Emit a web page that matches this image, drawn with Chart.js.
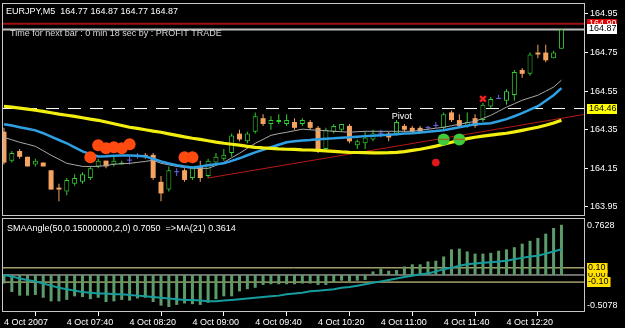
<!DOCTYPE html>
<html>
<head>
<meta charset="utf-8">
<script src="https://cdn.jsdelivr.net/npm/chart.js@4.4.1/dist/chart.umd.min.js"></script>
<style>
  html, body { margin: 0; padding: 0; background: #000; }
  canvas { position: absolute; left: 0; background: #000; }
  #mainChart { top: 0px; }
  #subChart { top: 216px; }
</style>
</head>
<body>
<canvas id="mainChart" width="625" height="216"></canvas>
<canvas id="subChart" width="625" height="112"></canvas>
<script>
// EURJPY M5 - 4 Oct 2007, 07:00 .. 12:55
const symbol = 'EURJPY,M5';
const opens  = [164.34,164.19,164.24,164.21,164.17,164.18,164.14,164.05,164.03,164.07,164.08,164.10,164.16,164.19,164.17,164.17,164.19,164.21,164.22,164.22,
                164.08,164.04,164.13,164.14,164.10,164.16,164.11,164.18,164.20,164.23,164.33,164.29,164.34,164.41,164.38,164.39,164.38,164.39,164.38,164.39,
                164.36,164.25,164.34,164.35,164.37,164.27,164.28,164.30,164.33,164.33,164.33,164.37,164.36,164.36,164.36,164.37,164.36,164.44,164.40,164.37,
                164.41,164.40,164.47,164.51,164.50,164.53,164.66,164.64,164.75,164.75,164.72,164.77];
const highs  = [164.36,164.24,164.25,164.21,164.20,164.18,164.14,164.07,164.10,164.12,164.13,164.16,164.20,164.19,164.21,164.19,164.21,164.23,164.23,164.23,
                164.11,164.16,164.15,164.15,164.16,164.19,164.20,164.23,164.25,164.33,164.35,164.34,164.44,164.43,164.42,164.43,164.43,164.41,164.41,164.40,
                164.37,164.36,164.38,164.38,164.38,164.30,164.34,164.35,164.35,164.34,164.40,164.38,164.37,164.37,164.37,164.39,164.44,164.45,164.43,164.44,
                164.43,164.49,164.52,164.53,164.56,164.66,164.67,164.75,164.79,164.79,164.76,164.87];
const lows   = [164.17,164.18,164.20,164.16,164.16,164.16,164.04,163.98,164.01,164.06,164.07,164.09,164.15,164.15,164.16,164.17,164.17,164.20,164.20,164.09,
                163.98,164.03,164.11,164.08,164.09,164.08,164.10,164.17,164.19,164.21,164.29,164.28,164.33,164.37,164.35,164.38,164.37,164.35,164.37,164.35,
                164.23,164.24,164.33,164.34,164.28,164.25,164.25,164.29,164.31,164.29,164.32,164.34,164.33,164.33,164.35,164.36,164.35,164.39,164.36,164.36,
                164.36,164.39,164.46,164.51,164.48,164.50,164.62,164.63,164.72,164.70,164.72,164.77];
const closes = [164.18,164.23,164.21,164.16,164.19,164.16,164.04,164.04,164.09,164.10,164.12,164.15,164.19,164.16,164.19,164.18,164.19,164.21,164.21,164.10,
                164.02,164.14,164.13,164.09,164.15,164.10,164.19,164.21,164.22,164.32,164.30,164.33,164.42,164.38,164.40,164.40,164.40,164.36,164.40,164.36,
                164.24,164.35,164.37,164.38,164.29,164.29,164.31,164.33,164.33,164.31,164.39,164.35,164.34,164.34,164.36,164.37,164.43,164.40,164.37,164.39,
                164.37,164.48,164.51,164.51,164.55,164.65,164.64,164.74,164.74,164.71,164.75,164.87];

// moving averages on the price window
const maSlow = [164.472,164.467,164.462,164.457,164.451,164.445,164.438,164.431,164.425,164.419,164.412,164.405,164.399,164.390,164.381,164.372,164.363,164.357,164.350,164.343,
                164.337,164.329,164.321,164.313,164.306,164.300,164.293,164.286,164.280,164.275,164.270,164.264,164.259,164.256,164.254,164.251,164.249,164.248,164.246,164.245,
                164.243,164.241,164.238,164.235,164.233,164.232,164.231,164.230,164.230,164.231,164.233,164.237,164.243,164.249,164.257,164.265,164.275,164.285,164.295,164.304,
                164.311,164.317,164.322,164.327,164.332,164.339,164.347,164.355,164.363,164.373,164.385,164.399];
const maMid  = [164.379,164.372,164.363,164.355,164.347,164.332,164.314,164.297,164.280,164.259,164.238,164.224,164.212,164.213,164.215,164.216,164.217,164.215,164.212,164.200,
                164.186,164.175,164.166,164.160,164.155,164.160,164.166,164.171,164.176,164.189,164.202,164.218,164.233,164.246,164.259,164.272,164.285,164.290,164.294,164.297,
                164.301,164.304,164.306,164.309,164.311,164.314,164.317,164.319,164.322,164.324,164.327,164.330,164.332,164.336,164.340,164.343,164.347,164.355,164.363,164.371,
                164.379,164.381,164.384,164.394,164.405,164.420,164.436,164.454,164.472,164.500,164.529,164.566];
const maFast = [164.311,164.298,164.285,164.275,164.264,164.241,164.218,164.197,164.176,164.168,164.160,164.160,164.160,164.165,164.171,164.174,164.176,164.181,164.186,164.192,
                164.176,164.168,164.160,164.155,164.150,164.150,164.150,164.165,164.181,164.205,164.228,164.254,164.280,164.300,164.321,164.330,164.337,164.345,164.353,164.350,
                164.347,164.345,164.342,164.340,164.337,164.340,164.342,164.342,164.342,164.342,164.342,164.342,164.342,164.348,164.353,164.358,164.363,164.371,164.379,164.386,
                164.394,164.409,164.425,164.446,164.467,164.485,164.503,164.516,164.529,164.550,164.571,164.607];

// trend line [bar, price], extends to the right edge
const trendLine = [[26, 164.10], [74, 164.43]];
const askPrice = 164.90;
const bidPrice = 164.87;
const pivotLevel = 164.46;

// markers
const redDots   = [[11, 164.207], [12, 164.270], [13, 164.254], [14, 164.259], [15, 164.254], [16, 164.275], [23, 164.207], [24, 164.207]];
const greenDots = [[56, 164.30], [58, 164.30]];
const sellMark  = [[55, 164.18]];
const crossMark = [[61, 164.51]];

// SMAAngle sub window
const angle = [-0.12,-0.24,-0.29,-0.29,-0.28,-0.32,-0.37,-0.37,-0.35,-0.30,-0.31,-0.34,-0.32,-0.38,-0.37,-0.35,-0.36,-0.33,-0.32,-0.38,
               -0.43,-0.45,-0.42,-0.40,-0.41,-0.42,-0.39,-0.34,-0.30,-0.30,-0.23,-0.20,-0.18,-0.14,-0.13,-0.13,-0.13,-0.13,-0.12,-0.12,
               -0.14,-0.14,-0.10,-0.08,-0.09,-0.08,-0.07,0.05,0.09,0.06,0.07,0.12,0.15,0.15,0.19,0.20,0.26,0.36,0.37,0.33,
               0.30,0.30,0.31,0.34,0.36,0.39,0.44,0.48,0.52,0.58,0.66,0.705];
const angleMA = [0.00,-0.02,-0.05,-0.07,-0.09,-0.12,-0.15,-0.18,-0.20,-0.22,-0.24,-0.25,-0.26,-0.26,-0.27,-0.27,-0.28,-0.29,-0.30,-0.31,
                 -0.32,-0.33,-0.34,-0.35,-0.35,-0.36,-0.37,-0.37,-0.36,-0.35,-0.34,-0.33,-0.32,-0.31,-0.30,-0.29,-0.27,-0.26,-0.25,-0.23,
                 -0.22,-0.21,-0.20,-0.18,-0.17,-0.15,-0.13,-0.11,-0.09,-0.07,-0.05,-0.03,-0.01,0.01,0.02,0.05,0.08,0.10,0.13,0.15,
                 0.16,0.17,0.18,0.19,0.20,0.22,0.24,0.26,0.27,0.30,0.33,0.3614];
const angleLevels = [0.10, 0, -0.10];
const angleMax = 0.7628;
const angleMin = -0.5078;

const priceTicks = [164.95, 164.75, 164.55, 164.35, 164.15, 163.95];
const timeTickBars = [0, 8, 16, 24, 32, 40, 48, 56, 64];
const timeLabels = ['4 Oct 2007', '4 Oct 07:40', '4 Oct 08:20', '4 Oct 09:00', '4 Oct 09:40',
                    '4 Oct 10:20', '4 Oct 11:00', '4 Oct 11:40', '4 Oct 12:20'];

const FONT = '"Liberation Sans", Arial, sans-serif';
const X_MIN = -0.25, X_MAX = 74;
const BULL = '#32cd32', BEAR = '#f4a460', DOJI = '#6a6ae8';

const kind = opens.map((o, i) => closes[i] > o ? 'bull' : (closes[i] < o ? 'bear' : 'doji'));
const pick = (k, a, b, c) => k === 'bull' ? a : (k === 'bear' ? b : c);
const pts = arr => arr.map((v, i) => ({ x: i, y: v }));
const pairs = arr => arr.map(p => ({ x: p[0], y: p[1] }));
const hline = v => [{ x: X_MIN, y: v }, { x: X_MAX, y: v }];

function lineSet(data, color, width, order, extra) {
    return Object.assign({
        type: 'line', data: data, borderColor: color, borderWidth: width,
        pointRadius: 0, fill: false, order: order, tension: 0
    }, extra || {});
}

// chart.js pads the axis for edge labels, MT4 does not
function noEdgePadding(s) {
    s.paddingTop = 0; s.paddingBottom = 0; s.paddingLeft = 0; s.paddingRight = 0;
}

// ---------- main price window ----------
const mainDecor = {
    id: 'mainDecor',
    afterDraw(chart) {
        const ctx = chart.ctx, a = chart.chartArea, y = chart.scales.y, x = chart.scales.x;
        ctx.save();
        ctx.strokeStyle = '#c8c8c8';
        ctx.lineWidth = 1;
        ctx.strokeRect(a.left + 0.5, a.top + 0.5, a.right - a.left - 1, a.bottom - a.top - 1);

        ctx.font = '9px ' + FONT;
        ctx.textBaseline = 'middle';
        ctx.fillStyle = '#ffffff';
        const n = closes.length - 1;
        ctx.fillText(symbol + '  ' + [opens[n], highs[n], lows[n], closes[n]].map(v => v.toFixed(2)).join(' '), 6, 12);
        ctx.fillStyle = '#d8d8d8';
        ctx.fillText('Time for next bar : 0 min 18 sec by : PROFIT TRADE', 10, 34);
        ctx.fillStyle = '#ffffff';
        ctx.fillText('Pivot', x.getPixelForValue(49.4), y.getPixelForValue(pivotLevel) + 8);

        // price tags on the axis
        const tag = (v, bg, fg) => {
            const py = Math.round(y.getPixelForValue(v));
            ctx.fillStyle = bg;
            ctx.fillRect(a.right + 2, py - 5, 30, 10);
            ctx.fillStyle = fg;
            ctx.fillText(v.toFixed(2), a.right + 4, py);
        };
        tag(askPrice, '#e00000', '#ffffff');
        tag(bidPrice, '#ffffff', '#000000');
        tag(pivotLevel, '#ffff00', '#000000');
        ctx.restore();
    }
};

new Chart(document.getElementById('mainChart'), {
    type: 'bar',
    data: {
        datasets: [
            lineSet(hline(askPrice), '#a01010', 2, 30),
            lineSet(hline(bidPrice), '#c0c0c0', 2, 30),
            lineSet(hline(pivotLevel), '#ffffff', 1, 30, { borderDash: [13, 9] }),
            {
                data: opens.map((o, i) => ({ x: i, y: [lows[i], highs[i]] })),
                backgroundColor: kind.map(k => pick(k, BULL, BEAR, DOJI)),
                barThickness: 1, grouped: false, inflateAmount: 0, order: 20
            },
            {
                data: opens.map((o, i) => ({ x: i, y: [o, closes[i]] })),
                backgroundColor: kind.map(k => pick(k, '#000000', BEAR, DOJI)),
                borderColor: kind.map(k => pick(k, BULL, BEAR, DOJI)),
                borderWidth: kind.map(k => k === 'bull' ? 1 : 0),
                borderSkipped: false, minBarLength: 1,
                barThickness: 5, grouped: false, inflateAmount: 0, order: 15
            },
            lineSet(pairs(trendLine), '#b81818', 1, 8),
            lineSet(pts(maFast), '#a8a8a8', 1, 7),
            lineSet(pts(maMid), '#2fa0e4', 2.5, 6),
            lineSet(pts(maSlow), '#f2ee10', 3.2, 5),
            { type: 'scatter', data: pairs(redDots), pointRadius: 6, pointBackgroundColor: '#ff4a10', pointBorderWidth: 0, order: 2 },
            { type: 'scatter', data: pairs(greenDots), pointRadius: 6, pointBackgroundColor: '#3ccc3c', pointBorderWidth: 0, order: 2 },
            { type: 'scatter', data: pairs(greenDots), pointStyle: 'line', pointRadius: 5, borderColor: '#9a6a28', pointBorderWidth: 1.5, order: 1 },
            { type: 'scatter', data: pairs(sellMark), pointRadius: 3.5, pointBackgroundColor: '#e01818', pointBorderColor: '#e01818', order: 1 },
            { type: 'scatter', data: pairs(crossMark), pointStyle: 'crossRot', pointRadius: 4, pointBorderColor: '#f02020', pointBorderWidth: 2.5, order: 1 }
        ]
    },
    options: {
        responsive: false,
        devicePixelRatio: 1,
        animation: false,
        events: [],
        layout: { autoPadding: false, padding: { left: 2, top: 3, right: 0, bottom: 0 } },
        plugins: { legend: { display: false }, tooltip: { enabled: false } },
        scales: {
            x: { type: 'linear', min: X_MIN, max: X_MAX, offset: false, display: false },
            y: {
                position: 'right', min: 163.903, max: 165.007,
                afterBuildTicks: s => { s.ticks = priceTicks.map(v => ({ value: v })); },
                afterFit: s => { s.width = 40; noEdgePadding(s); },
                border: { display: false },
                grid: { drawOnChartArea: false, drawTicks: true, tickLength: 3, color: '#ffffff' },
                ticks: { color: '#ffffff', padding: 2, font: { family: FONT, size: 9 }, callback: v => v.toFixed(2) }
            }
        }
    },
    plugins: [mainDecor]
});

// ---------- SMAAngle window ----------
const subDecor = {
    id: 'subDecor',
    afterDraw(chart) {
        const ctx = chart.ctx, a = chart.chartArea, y = chart.scales.y;
        const n = angle.length - 1;
        ctx.save();
        ctx.strokeStyle = '#c8c8c8';
        ctx.lineWidth = 1;
        ctx.strokeRect(a.left + 0.5, a.top + 0.5, a.right - a.left - 1, a.bottom - a.top - 1);
        ctx.font = '9px ' + FONT;
        ctx.textBaseline = 'middle';
        ctx.fillStyle = '#ffffff';
        ctx.fillText('SMAAngle(50,0.15000000,2,0) ' + angle[n].toFixed(4) + '  =>MA(21) ' + angleMA[n].toFixed(4), 7, 13);
        ctx.fillText(angleMax.toFixed(4), a.right + 2, a.top + 8);
        ctx.fillText(angleMin.toFixed(4), a.right + 2, a.bottom - 6);
        const tag = (v) => {
            const py = Math.round(y.getPixelForValue(v));
            const t = v.toFixed(2);
            ctx.fillStyle = '#ffe000';
            ctx.fillRect(a.right + 2, py - 5, ctx.measureText(t).width + 3, 10);
            ctx.fillStyle = '#000000';
            ctx.fillText(t, a.right + 3, py);
        };
        tag(angleLevels[1]);
        tag(angleLevels[0]);
        tag(angleLevels[2]);
        ctx.restore();
    }
};

new Chart(document.getElementById('subChart'), {
    type: 'bar',
    data: {
        datasets: [
            lineSet(hline(angleLevels[0]), '#f0f0a0', 1, 30),
            lineSet(hline(angleLevels[1]), '#d8d8d8', 1, 30),
            lineSet(hline(angleLevels[2]), '#f0f0a0', 1, 30),
            { data: pts(angle), backgroundColor: '#5c9c6a', barThickness: 3, grouped: false, inflateAmount: 0, order: 20 },
            lineSet(pts(angleMA), '#169c9c', 2, 5)
        ]
    },
    options: {
        responsive: false,
        devicePixelRatio: 1,
        animation: false,
        events: [],
        layout: { autoPadding: false, padding: { left: 2, top: 2, right: 40, bottom: 0 } },
        plugins: { legend: { display: false }, tooltip: { enabled: false } },
        scales: {
            x: {
                type: 'linear', min: X_MIN, max: X_MAX, offset: false,
                afterBuildTicks: s => { s.ticks = timeTickBars.map(v => ({ value: v })); },
                afterFit: s => { s.height = 16; noEdgePadding(s); },
                border: { display: false },
                grid: { drawOnChartArea: false, drawTicks: true, tickLength: 4, color: '#ffffff' },
                ticks: {
                    color: '#ffffff', align: 'start', autoSkip: false, maxRotation: 0, padding: 1,
                    font: { family: FONT, size: 9 },
                    callback: (v, i) => timeLabels[i]
                }
            },
            y: { display: false, min: -0.52, max: 0.80 }
        }
    },
    plugins: [subDecor]
});
</script>
</body>
</html>
